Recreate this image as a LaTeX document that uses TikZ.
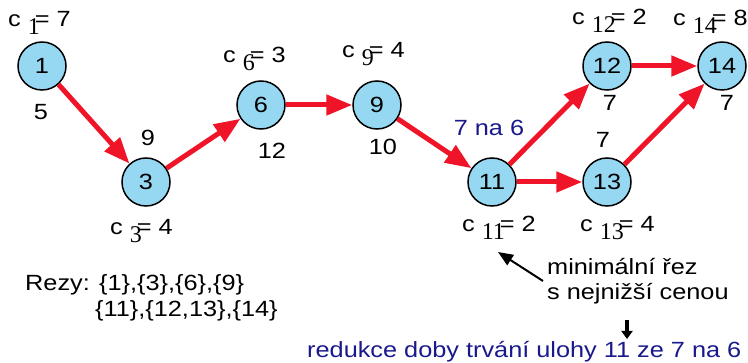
\documentclass[tikz,border=0pt]{standalone}
\usepackage{fontspec}
\setmainfont[FakeStretch=1.15]{Liberation Sans}
\newfontfamily\seriff{Liberation Serif}
\usetikzlibrary{arrows.meta}
\definecolor{nodeblue}{RGB}{150,215,242}
\definecolor{arrred}{RGB}{240,20,40}
\definecolor{navy}{RGB}{25,25,140}
\newcommand{\clab}[2]{c\hspace{7pt}\raisebox{-8pt}{\fontsize{24}{26}\seriff #1}\kern-5pt= #2}
\begin{document}
\begin{tikzpicture}[x=1pt,y=-1pt,
  task/.style={circle, draw=black, line width=1.5pt, fill=nodeblue, minimum size=48pt, inner sep=0pt, font=\fontsize{22}{26}\selectfont},
  lab/.style={inner sep=0pt, font=\fontsize{22}{26}\selectfont},
  clabel/.style={lab, anchor=base west},
  flow/.style={draw=arrred, line width=5pt, -{Triangle[length=26pt,width=20pt]}},
  pointer/.style={draw=black, line width=2pt, -{Triangle[length=15pt,width=12pt]}},
]
\useasboundingbox (0,0) rectangle (748,363);
% tasks
\node[task] (n1)  at (42,66)   {1};
\node[task] (n3)  at (146,182) {3};
\node[task] (n6)  at (261,105) {6};
\node[task] (n9)  at (377,105) {9};
\node[task] (n11) at (492,182) {11};
\node[task] (n12) at (607,66)  {12};
\node[task] (n13) at (607,182) {13};
\node[task] (n14) at (722,66)  {14};
% edges
\draw[flow] (n1) -- (n3);
\draw[flow] (n3) -- (n6);
\draw[flow] (n6) -- (n9);
\draw[flow] (n9) -- (n11);
\draw[flow] (n11) -- (n12);
\draw[flow] (n11) -- (n13);
\draw[flow] (n12) -- (n14);
\draw[flow] (n13) -- (n14);
% cost labels
\node[clabel] (c1)  at (8,27)    {\clab{1}{7}};
\node[clabel] (c3)  at (110,235) {\clab{3}{4}};
\node[clabel] (c6)  at (223,63)  {\clab{6}{3}};
\node[clabel] (c9)  at (342,58)  {\clab{9}{4}};
\node[clabel] (c12) at (572,25)  {\clab{12}{2}};
\node[clabel] (c14) at (673,26)  {\clab{14}{8}};
\node[clabel] (c11) at (462,232) {\clab{11}{2}};
\node[clabel] (c13) at (580,232) {\clab{13}{4}};
% durations
\node[lab] (d1)  at (41,112)  {5};
\node[lab] (d3)  at (148,138) {9};
\node[lab] (d6)  at (272,151) {12};
\node[lab] (d9)  at (383,147) {10};
\node[lab, text=navy] (d11) at (489,128) {7 na 6};
\node[lab] (d12) at (610,103) {7};
\node[lab] (d14) at (727,103) {7};
\node[lab] (d13) at (603,140) {7};
% cuts
\node[clabel] (r1) at (25,291) {Rezy: \{1\},\{3\},\{6\},\{9\}};
\node[clabel] (r2) at (95,317) {\{11\},\{12,13\},\{14\}};
% annotation
\node[clabel] (m1) at (547,275) {minimální řez};
\node[clabel] (m2) at (547,300) {s nejnižší cenou};
\coordinate (ptail) at (543,281);
\coordinate (phead) at (498,252);
\draw[pointer] (ptail) -- (phead);
\node[clabel, text=navy] (red) at (307,358) {redukce doby trvání ulohy 11 ze 7 na 6};
\coordinate (dtop) at (627,320);
\coordinate (dbot) at (627,339);
\draw[draw=black, line width=4.5pt, -{Triangle[length=8pt,width=11pt]}] (dtop) -- (dbot);
\end{tikzpicture}
\end{document}
